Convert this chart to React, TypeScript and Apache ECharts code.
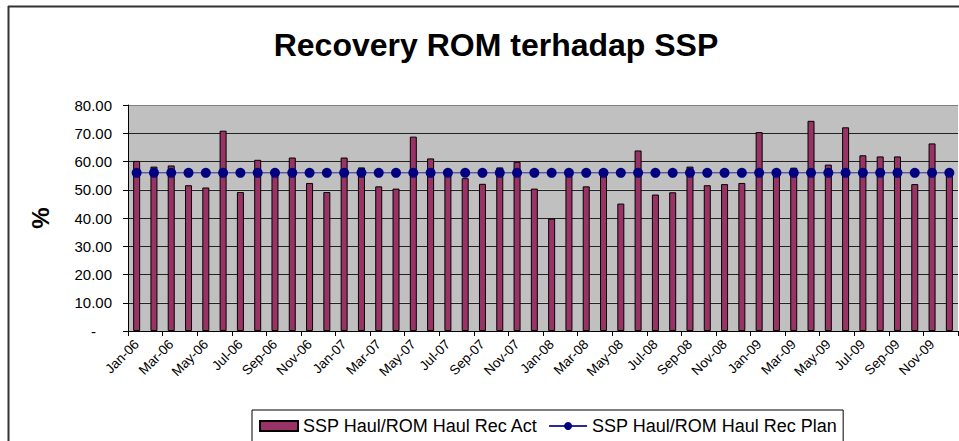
import React, { useEffect, useRef } from "react";
import * as echarts from "echarts";

const months = [
  "Jan-06","Feb-06","Mar-06","Apr-06","May-06","Jun-06","Jul-06","Aug-06","Sep-06","Oct-06","Nov-06","Dec-06",
  "Jan-07","Feb-07","Mar-07","Apr-07","May-07","Jun-07","Jul-07","Aug-07","Sep-07","Oct-07","Nov-07","Dec-07",
  "Jan-08","Feb-08","Mar-08","Apr-08","May-08","Jun-08","Jul-08","Aug-08","Sep-08","Oct-08","Nov-08","Dec-08",
  "Jan-09","Feb-09","Mar-09","Apr-09","May-09","Jun-09","Jul-09","Aug-09","Sep-09","Oct-09","Nov-09","Dec-09",
];

const recAct = [
  60.2, 58.2, 58.6, 51.6, 50.8, 70.9, 49.2, 60.6, 56.5, 61.4, 52.4, 49.2,
  61.4, 57.9, 51.2, 50.4, 68.8, 61.1, 55.5, 54.1, 52.1, 57.9, 59.9, 50.4,
  39.8, 55.5, 51.2, 55.5, 45.1, 63.9, 48.3, 49.1, 58.2, 51.6, 52.0, 52.4,
  70.4, 55.3, 57.8, 74.4, 58.9, 72.1, 62.2, 61.8, 61.8, 52.0, 66.4, 55.5,
];

const recPlan = [
  56, 56, 56, 56, 56, 56, 56, 56, 56, 56, 56, 56,
  56, 56, 56, 56, 56, 56, 56, 56, 56, 56, 56, 56,
  56, 56, 56, 56, 56, 56, 56, 56, 56, 56, 56, 56,
  56, 56, 56, 56, 56, 56, 56, 56, 56, 56, 56, 56,
];

const FONT = "Liberation Sans, Arial, sans-serif";

export default function App() {
  const ref = useRef<HTMLDivElement>(null);
  useEffect(() => {
    if (!ref.current) return;
    const chart = echarts.init(ref.current, undefined, { renderer: "svg" });
    const splitColors = ["#000", "#222", "#222", "#222", "#222", "#222", "#222", "#222", "#808080"];
    chart.setOption({
      animation: false,
      backgroundColor: "#fff",
      textStyle: { fontFamily: FONT },
      title: {
        text: "Recovery ROM terhadap SSP",
        left: 491,
        textAlign: "center",
        top: 24,
        textStyle: { fontFamily: FONT, fontSize: 32, fontWeight: "bold", color: "#000" },
      },
      graphic: [
        { type: "line", shape: { x1: 8.5, y1: 6, x2: 8.5, y2: 441 }, style: { stroke: "#333", lineWidth: 2 } },
        { type: "line", shape: { x1: 8, y1: 6.5, x2: 959, y2: 6.5 }, style: { stroke: "#333", lineWidth: 2 } },
      ],
      grid: { left: 128, top: 105, right: 1, bottom: 110 },
      legend: {
        left: 252,
        top: 410,
        itemWidth: 38,
        itemHeight: 10,
        itemGap: 10,
        padding: [7, 6, 7, 7],
        borderColor: "#000",
        borderWidth: 1,
        backgroundColor: "#fff",
        textStyle: { fontFamily: FONT, fontSize: 18, color: "#000" },
        data: [
          { name: "SSP Haul/ROM Haul Rec Act", icon: "rect" },
          { name: "SSP Haul/ROM Haul Rec Plan" },
        ],
      },
      xAxis: {
        type: "category",
        data: months,
        boundaryGap: true,
        axisLine: { lineStyle: { color: "#000", width: 1 } },
        axisTick: { show: true, interval: 1, length: 5, lineStyle: { color: "#000" } },
        axisLabel: { interval: 1, rotate: 45, fontSize: 13.5, color: "#000", fontFamily: FONT, margin: 11 },
        splitLine: { show: false },
      },
      yAxis: {
        type: "value",
        min: 0,
        max: 80,
        interval: 10,
        name: "%",
        nameLocation: "middle",
        nameRotate: 90,
        nameGap: 76,
        nameTextStyle: { fontFamily: FONT, fontSize: 24, fontWeight: "bold", color: "#000" },
        axisLine: { show: true, lineStyle: { color: "#000", width: 1 } },
        axisTick: { show: true, length: 5, lineStyle: { color: "#000" } },
        axisLabel: {
          fontSize: 15,
          color: "#000",
          fontFamily: FONT,
          margin: 16,
          formatter: (v: number) => (v === 0 ? "{d|-}" : v.toFixed(2)),
          rich: { d: { fontSize: 15, color: "#000", fontFamily: FONT, padding: [0, 16, 0, 0] } },
        },
        splitLine: { show: true, lineStyle: { color: splitColors, width: 1 } },
        splitArea: { show: true, areaStyle: { color: ["#c0c0c0"] } },
      },
      series: [
        {
          name: "SSP Haul/ROM Haul Rec Act",
          type: "bar",
          data: recAct,
          barWidth: 7,
          itemStyle: { color: "#993366", borderColor: "#000", borderWidth: 1 },
        },
        {
          name: "SSP Haul/ROM Haul Rec Plan",
          type: "line",
          data: recPlan,
          symbol: "circle",
          symbolSize: 10,
          itemStyle: { color: "#000080" },
          lineStyle: { color: "#2a2a9a", width: 1 },
        },
      ],
    });
    return () => chart.dispose();
  }, []);
  return <div ref={ref} style={{ position: "fixed", left: 0, top: 0, width: 959, height: 441 }} />;
}
